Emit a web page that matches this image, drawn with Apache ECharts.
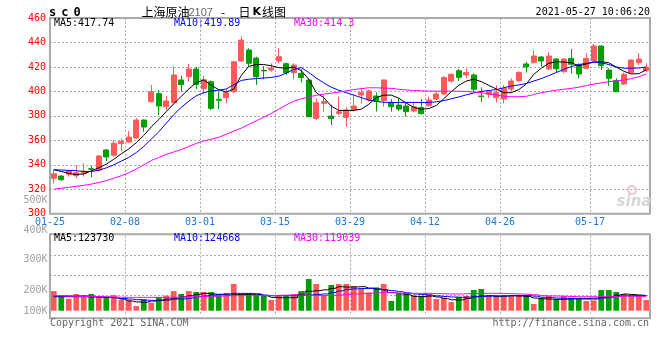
<!DOCTYPE html>
<html><head><meta charset="utf-8">
<script src="https://cdn.jsdelivr.net/npm/echarts@6.0.0/dist/echarts.min.js"></script>
<style>html,body{margin:0;padding:0;background:#fff}#c{width:660px;height:360px}</style>
</head><body><div id="c"></div>
<script>
const dates = ['01-25','01-26','01-27','01-28','01-29','02-01','02-02','02-03','02-04','02-05',
'02-08','02-09','02-10','02-18','02-19','02-22','02-23','02-24','02-25','02-26',
'03-01','03-02','03-03','03-04','03-05','03-08','03-09','03-10','03-11','03-12',
'03-15','03-16','03-17','03-18','03-19','03-22','03-23','03-24','03-25','03-26',
'03-29','03-30','03-31','04-01','04-02','04-05','04-06','04-07','04-08','04-09',
'04-12','04-13','04-14','04-15','04-16','04-19','04-20','04-21','04-22','04-23',
'04-26','04-27','04-28','04-29','04-30','05-06','05-07','05-10','05-11','05-12','05-13','05-14',
'05-17','05-18','05-19','05-20','05-21','05-24','05-25','05-26'];
const labelDates = ['01-25','02-08','03-01','03-15','03-29','04-12','04-26','05-17'];

const open = [328.9,330.8,332.2,331.1,333.0,336.8,335.7,352.1,347.8,357.3,
358.6,361.9,376.6,391.6,398.2,387.5,390.8,409.4,412.1,418.4,
402.2,408.0,393.5,394.9,399.8,424.9,433.9,427.3,417.3,417.5,
424.9,422.7,415.3,414.8,409.3,378.0,390.3,379.9,382.1,378.8,
384.8,397.1,393.0,396.3,392.5,391.1,388.9,388.1,384.0,386.7,
388.4,393.8,397.9,408.5,417.0,413.5,413.5,396.3,397.6,395.0,
393.8,402.0,408.8,422.5,423.5,428.2,418.4,426.5,416.2,427.1,421.6,418.9,
424.9,437.2,417.5,408.8,406.1,415.4,423.5,417.0];
const close = [332.7,327.8,334.9,333.5,334.9,336.4,347.2,346.4,357.6,359.2,
362.7,376.6,370.9,399.8,388.1,392.2,413.5,405.5,418.4,405.8,
409.5,386.2,392.8,399.0,424.3,442.0,423.0,412.1,416.8,419.2,
428.4,415.3,421.6,411.3,379.3,390.8,391.6,377.7,383.4,384.8,
388.1,399.0,400.4,392.2,409.4,387.5,385.6,383.5,387.5,381.8,
393.0,397.9,411.3,414.0,411.5,415.4,401.8,395.8,399.8,399.0,
402.5,408.5,415.4,420.0,429.0,424.9,429.0,418.6,426.5,422.2,414.3,427.1,
437.2,421.1,410.7,399.8,414.0,425.7,426.5,419.7];
const low = [324.8,326.8,330.3,329.0,330.3,329.8,334.4,343.0,346.6,351.3,
358.0,361.5,367.0,391.0,380.5,384.8,390.0,399.8,408.0,401.8,
398.0,384.8,385.6,390.3,398.4,424.0,420.3,405.3,409.9,416.2,
423.0,413.4,409.9,407.2,379.3,376.6,383.4,372.5,380.7,371.2,
383.5,390.3,391.6,383.5,387.5,383.5,384.0,379.4,382.9,381.3,
387.5,393.0,397.1,407.2,408.5,410.7,399.3,391.6,394.9,391.0,
390.3,400.4,408.0,415.4,423.0,420.3,417.5,415.9,414.8,414.8,410.7,418.4,
424.4,417.5,404.7,399.5,405.3,414.8,421.6,415.6];
const high = [335.7,331.5,335.7,339.8,341.2,339.0,348.0,353.0,360.3,361.4,
367.6,378.3,377.0,405.3,401.2,396.3,420.2,412.9,422.5,420.2,
413.0,409.0,399.8,402.5,425.0,445.3,435.3,428.4,420.8,423.0,
435.3,423.5,423.0,418.1,410.7,394.4,397.1,388.9,395.7,387.0,
397.6,403.1,401.5,399.3,409.6,393.8,394.4,391.6,391.6,393.8,
395.7,399.8,412.6,414.8,418.4,418.9,414.8,403.4,401.2,405.0,
405.3,410.7,416.7,424.4,433.4,429.0,432.5,427.6,427.1,434.7,423.0,431.2,
438.8,437.5,418.9,410.7,415.4,426.3,431.2,423.0];

const ma5 = [336,334.5,333,332,332.5,335,337.5,340.5,344.5,349,
353,358,364,371,377,383.5,390,396,402,407,
409.5,405,401.5,399.5,402,413,420.5,422,422,421,
419.5,419,420,417,410,399,395,388,384.5,384.5,
384.5,385.5,389.5,395,397,397,394.5,390.5,387,385.5,
386,388.5,394,399.8,405,408.5,410,408,405,402,
399,399,401.5,406,414,419,423,424.3,424,423.5,421,422.5,
424,424.3,423.5,420,416.5,414.3,414.5,417.7];
const ma10 = [336,335.7,335.4,335.2,334.5,334.5,335.5,337.5,340,343,
346,350,355,361,367,374,381,387,392,396.5,
399,400.5,401,402,405.5,409,410,410.5,411,411.5,
412.5,415,418,419.5,415.5,411,407,403.5,401,399,
397,395,393,391.8,391.2,391,391,391,391,391,
391,391.5,392.5,394,395.5,397.2,398.8,400,400.8,401.5,
403,404.5,405.3,406.5,408.5,410.5,413,415.5,418,420.3,422,423,
424,423.5,422,420,419,419,419.2,419.9];
const ma30 = [320,320.8,321.6,322.4,323.2,324.2,325.5,327,329,331,
333.5,336.5,340,343.5,346,348.5,350.5,352.5,355,357.5,
359.5,361,362.5,365,367.5,370,373,376,379,382,
385.5,389,392,394,395.5,396.8,397.8,398.6,399.5,400.5,
401.5,402.3,403,403,402.8,402.5,401.8,401.2,400.8,400.5,
400.3,400.2,400.2,400.2,400.2,400,399.5,399,398,397,
396,395.7,395.7,396,397.5,399,400,401,401.8,402.5,403.5,404.8,
406,407,408,408.7,409.3,410.5,412,414.3];

// volume in thousands (K)
const vol = [162,124,99,137.5,129,137.5,121,115.5,129,91,
85,38.5,96,66,113,124,162,137.5,162,154,
154,154,129,146,220,137.5,143,129,129,88,
129,129,137.5,162,261,220,129,212,220,220,
203.5,184,151,192.5,220,80,137.5,146,129,121,
135,96,107,71.5,115.5,121,170.5,179,124,129,
129,121,129,129,55,107,121,96,121,107,96,80,
85,170.5,170.5,154,137.5,121,121,88];
const vma5 = [115.5,115.5,115.5,115.5,115.5,113,111,109,107,96,
80,72,69,80,84,88,102,113,124,135,
143,137.5,135,129,132,135,135,135,124,110,
107,107,107,135,160,165,172,184,198,195,
196,198,186,179,170,150,140,132,117,116,
121,113,100,90,88,100,115,121,124,118,
120,124,121,117,104,98,96,93.5,95,98,102,102,
104,110,115.5,129,137.5,133,129,123.7];
const vma10 = [121,121,121,121,121,118,115.5,111,107,101,
96,91,87,85,88,96,96,96,103,115.5,
121,129,134,138,143,143,143,139,129,124,
124,124,124,126,129,134,138,150,163,176,
180,183,184,178,172,165,157,147,138,133,
129,122,117,113,110,112,115.5,118,120,121,
122,123,124,124,120,111,108,104,102,100,96,96,
96,104,112,120,123,124,124,124.7];
const vma30 = [124,122,120,118.5,117,116,115.5,114,112,111,
110,110,110,110,110,110,111,112.5,114,115.5,
117,119,121,123,124,124,124,124,124,125.5,
127,128,129,128,126,125,124,125,130,135,
138,141,143,147,151,148,145,143,143,143,
143,141,139,138,137.5,140,143,143,143,143,
142,140,138,135,131,124,122,121,119,117,115.5,115.5,
115.5,115.5,115.5,117,121,119,117,119];

const priceTicks = {min:300, max:460, step:20};
const priceLegend = ['MA5:417.74','MA10:419.89','MA30:414.3'];
const volLegend = ['MA5:123730','MA10:124668','MA30:119039'];
const volTickLabels = ['500K','400K','300K','200K','100K'];
const symbolText = 'sc0';
const titleParts = ['上海原油','2107','-','日','K','线图'];
const stamp = '2021-05-27 10:06:20';
const footLeft = 'Copyright 2021 SINA.COM';
const footRight = 'http://finance.sina.com.cn';

const RED = '#ff5a5a', GREEN = '#009f00';
const MONO = '"DejaVu Sans Mono", monospace';
const labelSet = new Set(labelDates);
const grid1 = {left:50, top:18.1, width:600, height:195.6};
const grid2 = {left:50, top:235.7, width:600, height:80};
const dotted = {color:'#aaa', width:1, type:[2,2]};

const chart = echarts.init(document.getElementById('c'), null, {renderer:'canvas'});

const candle = dates.map((d,i)=>[open[i], close[i], low[i], high[i]]);
const volData = vol.map((v,i)=>({value:v, itemStyle:{color: close[i] >= open[i] ? RED : GREEN}}));

const maColors = ['#000000','#0000ff','#ff00ff'];
const legendX = [54, 174, 294];
const volLabelY = [200.7, 230.7, 259.7, 290.7, 311.7];

function txt(text, x, y, color, font, align) {
  return {type:'text', silent:true, z:50, style:{text:text, x:x, y:y, fill:color, font:font,
    textAlign:align||'left', textVerticalAlign:'middle'}};
}
const graphics = [];
graphics.push({type:'rect', silent:true, z:40, shape:{x:50, y:234.3, width:600, height:84},
  style:{fill:'none', stroke:'#aaa', lineWidth:2}});
symbolText.split('').forEach((ch,k)=>graphics.push(txt(ch, 49 + k*12.2, 12.5, '#000', 'bold 12px ' + MONO)));
graphics.push(txt(titleParts[0], 141.5, 12, '#000', '12px "Noto Sans CJK SC"'));
graphics.push(txt(titleParts[1], 188.5, 12.5, '#666', '11px "Liberation Sans"'));
graphics.push(txt(titleParts[2], 221, 12, '#000', '12px "Noto Sans CJK SC"'));
graphics.push(txt(titleParts[3], 238.5, 12, '#000', '12px "Noto Sans CJK SC"'));
graphics.push(txt(titleParts[4], 252.5, 12.5, '#000', 'bold 11px "DejaVu Sans"'));
graphics.push(txt(titleParts[5], 262, 12, '#000', '12px "Noto Sans CJK SC"'));
graphics.push(txt(stamp, 650, 12, '#000', '10px ' + MONO, 'right'));
priceLegend.forEach((t,k)=>graphics.push(txt(t, legendX[k], 23.7, maColors[k], '10px ' + MONO)));
volLegend.forEach((t,k)=>graphics.push(txt(t, legendX[k], 238.7, maColors[k], '10px ' + MONO)));
volTickLabels.forEach((t,k)=>graphics.push(txt(t, 47.5, volLabelY[k], '#a0a0a0', '10px ' + MONO, 'right')));
graphics.push(txt(footLeft, 50, 323.5, '#666', '10px ' + MONO));
graphics.push(txt(footRight, 649, 323.5, '#666', '10px ' + MONO, 'right'));
// sina watermark
graphics.push({type:'circle', silent:true, z:5, shape:{cx:632, cy:190, r:4}, style:{fill:'none', stroke:'#f3c4c4', lineWidth:2}});
graphics.push(txt('sina', 634, 202, '#d6d6d6', 'italic bold 15px "DejaVu Sans"', 'center'));

const option = {
  animation:false,
  backgroundColor:'#fff',
  grid:[Object.assign({show:true, borderColor:'#aaa', borderWidth:2, containLabel:false}, grid1),
        Object.assign({show:false, containLabel:false}, grid2)],
  xAxis:[
    {type:'category', gridIndex:0, data:dates, boundaryGap:true,
     axisLine:{show:false}, axisTick:{show:false},
     axisLabel:{interval:(i,v)=>labelSet.has(v), color:'#1e78d2', fontFamily:'DejaVu Sans Mono', fontSize:10, margin:4, padding:[0,7.5,0,0]},
     splitLine:{show:true, interval:(i,v)=>labelSet.has(v), lineStyle:dotted}},
    {type:'category', gridIndex:1, data:dates, boundaryGap:true,
     axisLine:{show:false}, axisTick:{show:false}, axisLabel:{show:false},
     splitLine:{show:true, interval:(i,v)=>labelSet.has(v), lineStyle:dotted}}
  ],
  yAxis:[
    {type:'value', gridIndex:0, min:priceTicks.min, max:priceTicks.max, interval:priceTicks.step,
     axisLine:{show:false}, axisTick:{show:false},
     axisLabel:{color:'#ff0000', fontFamily:'DejaVu Sans Mono', fontSize:10, margin:4, padding:[0,0,4,0]},
     splitLine:{show:true, lineStyle:dotted}},
    {type:'value', gridIndex:1, min:-41.2, max:618.3, show:false, splitLine:{show:false}},
    {type:'value', gridIndex:1, min:0, max:4, interval:1, axisLine:{show:false}, axisTick:{show:false},
     axisLabel:{show:false}, splitLine:{show:true, showMinLine:false, showMaxLine:false, lineStyle:dotted}}
  ],
  series:[
    {type:'candlestick', xAxisIndex:0, yAxisIndex:0, data:candle, barWidth:5.5,
     itemStyle:{color:RED, color0:GREEN, borderColor:RED, borderColor0:GREEN, borderWidth:1}, z:2},
    {type:'line', xAxisIndex:0, yAxisIndex:0, data:ma5, symbol:'none', lineStyle:{color:maColors[0], width:1}, z:3},
    {type:'line', xAxisIndex:0, yAxisIndex:0, data:ma10, symbol:'none', lineStyle:{color:maColors[1], width:1}, z:3},
    {type:'line', xAxisIndex:0, yAxisIndex:0, data:ma30, symbol:'none', lineStyle:{color:maColors[2], width:1}, z:3},
    {type:'bar', xAxisIndex:1, yAxisIndex:1, data:volData, barWidth:5.7, z:2},
    {type:'line', xAxisIndex:1, yAxisIndex:1, data:vma5, step:'middle', symbol:'none', lineStyle:{color:maColors[0], width:1}, z:3},
    {type:'line', xAxisIndex:1, yAxisIndex:1, data:vma10, step:'middle', symbol:'none', lineStyle:{color:maColors[1], width:1}, z:3},
    {type:'line', xAxisIndex:1, yAxisIndex:1, data:vma30, step:'middle', symbol:'none', lineStyle:{color:maColors[2], width:1}, z:3}
  ],
  graphic:graphics
};
chart.setOption(option);
</script></body></html>
